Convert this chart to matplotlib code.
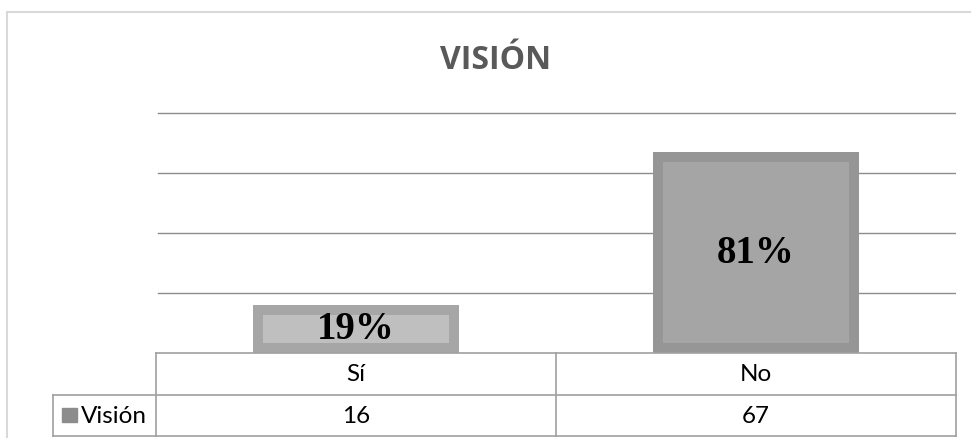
import matplotlib
matplotlib.use("Agg")
import matplotlib.pyplot as plt
from matplotlib.lines import Line2D
from matplotlib.patches import Rectangle

categories = ["Sí", "No"]
values = [16, 67]
series_name = "Visión"
title = "VISIÓN"

outer_colors = ["#A6A6A6", "#969696"]
inner_colors = ["#BFBFBF", "#A5A5A5"]
grid_color = "#8C8C8C"
table_color = "#A0A0A0"

W, H = 971, 439
fig = plt.figure(figsize=(W / 100, H / 100), dpi=100)

# plot area in pixels (top-left origin)
px_left, px_right = 156, 956
px_base = 354
ymax = 82
px_per_unit = 3.0
px_top = px_base - ymax * px_per_unit
ax = fig.add_axes([px_left / W, 1 - px_base / H,
                   (px_right - px_left) / W, (px_base - px_top) / H])
ax.set_xlim(-0.5, 1.5)
ax.set_ylim(0, ymax)
for s in ax.spines.values():
    s.set_visible(False)
ax.set_xticks([])
ax.set_yticks([])
for gy in [20, 40, 60, 80]:
    ax.plot([-0.495, 1.4975], [gy, gy], color=grid_color, lw=1.0, zorder=1)

total = sum(values)
x = range(len(categories))
bars = ax.bar(x, values, width=0.515, color=inner_colors, zorder=2)
for b, ec in zip(bars, outer_colors):
    b.set_edgecolor(ec)
    b.set_linewidth(14.4)
    b.set_clip_path(b)
    pct = round(100 * b.get_height() / total)
    ax.text(b.get_x() + b.get_width() / 2, b.get_height() / 2, f"{pct}%",
            ha="center", va="center", fontsize=28, fontweight="bold",
            family="Liberation Serif", color="black", zorder=3)

# data table under the plot
row_h = 41.5 / (px_base - px_top)
tr = ax.get_xaxis_transform()
leg_left = -0.5 - 103 / 400
lines = [
    ([-0.5, 1.5], [0, 0]),
    ([leg_left, 1.5], [-row_h, -row_h]),
    ([leg_left, 1.5], [-2 * row_h, -2 * row_h]),
    ([-0.5, -0.5], [0, -2 * row_h]),
    ([0.5, 0.5], [0, -2 * row_h]),
    ([1.5, 1.5], [0, -2 * row_h]),
    ([leg_left, leg_left], [-row_h, -2 * row_h]),
]
for lx, ly in lines:
    ax.add_line(Line2D(lx, ly, transform=tr, color=table_color, lw=1.2,
                       clip_on=False, zorder=4))
cell_font = dict(fontsize=17.5, family="Lato", color="black")
for i, (cat, v) in enumerate(zip(categories, values)):
    ax.text(i, -0.5 * row_h, cat, transform=tr, ha="center", va="center", **cell_font)
    ax.text(i, -1.5 * row_h, str(v), transform=tr, ha="center", va="center", **cell_font)
ax.add_patch(Rectangle((leg_left + 9 / 400, -1.5 * row_h - 7 / 246), 15 / 400, 14 / 246,
                       transform=tr, color="#8C8C8C", clip_on=False))
ax.text(leg_left + 28 / 400, -1.5 * row_h, series_name, transform=tr,
        ha="left", va="center", **cell_font)

# chart frame
fig.add_artist(Line2D([7 / W, 1], [1 - 13 / H, 1 - 13 / H], color="#D9D9D9", lw=1.5))
fig.add_artist(Line2D([7 / W, 7 / W], [0, 1 - 13 / H], color="#D9D9D9", lw=1.5))

fig.text(495.5 / W, 1 - 69 / H, title, ha="center", va="baseline",
         fontsize=23, fontweight="bold", family="Open Sans", color="#595959")

fig.savefig("out.png", dpi=100)
